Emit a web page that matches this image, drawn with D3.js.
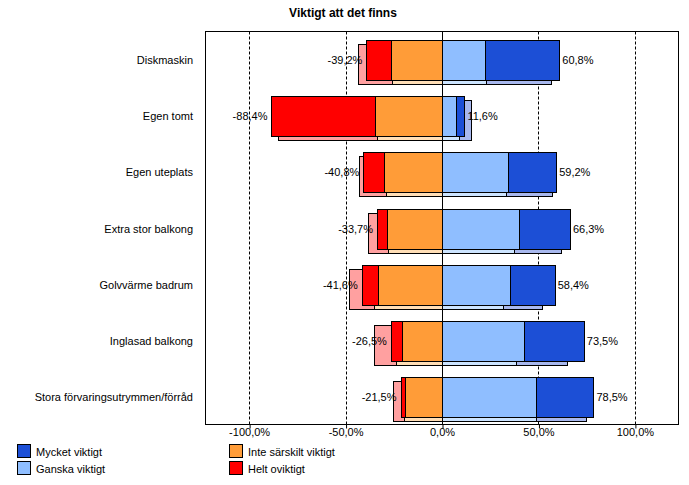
<!DOCTYPE html>
<html><head><meta charset="utf-8">
<script src="https://cdn.jsdelivr.net/npm/d3@7"></script>
<style>body{margin:0;background:#fff;} text{font-family:"Liberation Sans",Arial,sans-serif;}</style>
</head><body>
<svg id="c" width="689" height="485"></svg>
<script>
const title = "Viktigt att det finns";
const categories = ["Diskmaskin","Egen tomt","Egen uteplats","Extra stor balkong","Golvvärme badrum","Inglasad balkong","Stora förvaringsutrymmen/förråd"];
// main series (current)
const heltOviktigt   = [12.6, 53.6, 10.9, 5.0, 8.4, 5.6, 2.5];
const inteSarskilt   = [26.6, 34.8, 29.9, 28.7, 33.2, 20.9, 19.0];
const ganskaViktigt  = [22.5, 7.3, 34.2, 39.9, 35.1, 42.5, 48.5];
const mycketViktigt  = [38.3, 4.3, 25.0, 26.4, 23.3, 31.0, 30.0];
// comparison series (shadow)
const cmpHeltOviktigt  = [17.3, 51.0, 14.0, 10.5, 13.1, 11.0, 5.6];
const cmpInteSarskilt  = [26.0, 33.9, 29.1, 28.0, 35.0, 24.0, 19.6];
const cmpGanskaViktigt = [22.8, 8.8, 33.1, 37.2, 31.6, 38.3, 48.5];
const cmpMycketViktigt = [33.9, 6.3, 23.8, 24.3, 20.3, 26.7, 26.3];
const negLabels = ["-39,2%","-88,4%","-40,8%","-33,7%","-41,6%","-26,5%","-21,5%"];
const posLabels = ["60,8%","11,6%","59,2%","66,3%","58,4%","73,5%","78,5%"];
const tickValues = [-100,-50,0,50,100];
const legendLabels = ["Mycket viktigt","Ganska viktigt","Inte särskilt viktigt","Helt oviktigt"];

const colMain = {red:"#ff0000", orange:"#ff9c38", light:"#8fbeff", blue:"#1c4fd6"};
const colCmp  = {red:"#ffa0a0", orange:"#ffdeb6", light:"#cce4ff", blue:"#a8b8ee"};

const svg = d3.select("#c");
const L=205.5, R=678.5, T=31.5, B=424.5;
const x = d3.scaleLinear().domain([-122.6,122.6]).range([L,R]);
const y = d3.scaleBand().domain(categories).range([T,B]);

svg.append("text").attr("x",343).attr("y",17).attr("text-anchor","middle")
  .style("font-weight","bold").style("font-size","12px").text(title);

// gridlines
svg.append("g").selectAll("line").data(tickValues.filter(d=>d!==0)).join("line")
  .attr("x1",d=>Math.round(x(d))+0.5).attr("x2",d=>Math.round(x(d))+0.5)
  .attr("y1",T).attr("y2",B).attr("stroke","#000").attr("stroke-dasharray","3,2");

function segs(i, a, b, c, d){
  return [
    {x0:-(a[i]+b[i]), x1:-b[i], k:"red"},
    {x0:-b[i], x1:0, k:"orange"},
    {x0:0, x1:c[i], k:"light"},
    {x0:c[i], x1:c[i]+d[i], k:"blue"}
  ];
}
const px = v => Math.round(x(v))+0.5;

categories.forEach((cat,i)=>{
  const cy = y(cat)+y.bandwidth()/2 + 0.5;
  const top = Math.round(cy-20)+0.5;
  const g = svg.append("g");
  // shadow
  g.selectAll("rect.s").data(segs(i,cmpHeltOviktigt,cmpInteSarskilt,cmpGanskaViktigt,cmpMycketViktigt)).join("rect")
    .attr("x",d=>px(d.x0)).attr("width",d=>px(d.x1)-px(d.x0))
    .attr("y",top+4).attr("height",40)
    .attr("fill",d=>colCmp[d.k]).attr("stroke","#000");
  // main
  g.selectAll("rect.m").data(segs(i,heltOviktigt,inteSarskilt,ganskaViktigt,mycketViktigt)).join("rect")
    .attr("x",d=>px(d.x0)).attr("width",d=>px(d.x1)-px(d.x0))
    .attr("y",top).attr("height",40)
    .attr("fill",d=>colMain[d.k]).attr("stroke","#000");
  const negEnd = -(heltOviktigt[i]+inteSarskilt[i]);
  const posEnd = ganskaViktigt[i]+mycketViktigt[i];
  svg.append("text").attr("x",x(negEnd)-4).attr("y",cy+4).attr("text-anchor","end")
    .style("font-size","11px").text(negLabels[i]);
  svg.append("text").attr("x",x(posEnd)+3).attr("y",cy+4)
    .style("font-size","11px").text(posLabels[i]);
  svg.append("text").attr("x",193).attr("y",cy+4).attr("text-anchor","end")
    .style("font-size","11px").text(cat);
});

// zero line
svg.append("line").attr("x1",px(0)).attr("x2",px(0)).attr("y1",T).attr("y2",B).attr("stroke","#000");
// frame
svg.append("rect").attr("x",L).attr("y",T).attr("width",R-L).attr("height",B-T).attr("fill","none").attr("stroke","#000");

// axis
const ax = svg.append("g").attr("transform",`translate(0,${B})`)
  .call(d3.axisBottom(x).tickValues(tickValues).tickSize(4).tickSizeOuter(0)
    .tickFormat(d=>d.toFixed(1).replace(".",",")+"%"));
ax.select(".domain").remove();
ax.selectAll("line").attr("transform","translate(0.5,0)");
ax.selectAll("text").style("font-size","11px").style("font-family","Liberation Sans, Arial, sans-serif").attr("dy","0.9em").attr("y",2);

// legend
const legCols = [colMain.blue, colMain.light, colMain.orange, colMain.red];
const legPos = [[17.5,444.5],[17.5,461.5],[229.5,444.5],[229.5,461.5]];
legendLabels.forEach((lab,i)=>{
  svg.append("rect").attr("x",legPos[i][0]).attr("y",legPos[i][1]).attr("width",13).attr("height",13)
    .attr("fill",legCols[i]).attr("stroke","#000");
  svg.append("text").attr("x",legPos[i][0]+18.5).attr("y",legPos[i][1]+11).style("font-size","11px").text(lab);
});
</script>
</body></html>
